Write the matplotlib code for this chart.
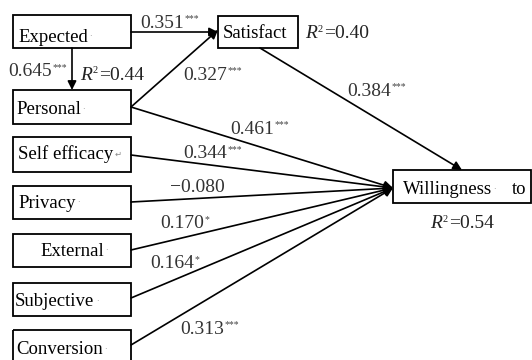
import matplotlib
matplotlib.use("Agg")
import matplotlib.pyplot as plt
from matplotlib.patches import Rectangle

# ---- data ----
nodes = ["Expected", "Satisfact", "Personal", "Self efficacy", "Privacy",
         "External", "Subjective", "Conversion", "Willingness"]
node_marks = ["·", "", "·", "↵", "·", "·", "·", "·", "·"]
paths_from = ["Expected", "Expected", "Personal", "Satisfact", "Personal",
              "Self efficacy", "Privacy", "External", "Subjective", "Conversion"]
paths_to = ["Satisfact", "Personal", "Satisfact", "Willingness", "Willingness",
            "Willingness", "Willingness", "Willingness", "Willingness", "Willingness"]
coef_values = ["0.351", "0.645", "0.327", "0.384", "0.461",
               "0.344", "\u22120.080", "0.170", "0.164", "0.313"]
coef_stars = ["***", "***", "***", "***", "***", "***", "", "*", "*", "***"]
r2_nodes = ["Personal", "Satisfact", "Willingness"]
r2_values = ["0.44", "0.40", "0.54"]

# ---- layout (pixel coordinates) ----
boxes = {
    "Expected": (13, 15, 131, 48),
    "Satisfact": (218, 16, 298, 48),
    "Personal": (13, 90, 131, 124),
    "Self efficacy": (13, 137, 131, 172),
    "Privacy": (13, 186, 131, 219),
    "External": (13, 234, 131, 267),
    "Subjective": (13, 283, 131, 316),
    "Conversion": (13, 330, 131, 368),
    "Willingness": (393, 170, 531, 203),
}
text_pos = {
    "Expected": (18, 37), "Satisfact": (223, 33), "Personal": (16, 110),
    "Self efficacy": (18, 154), "Privacy": (18, 203), "External": (40, 251),
    "Subjective": (15, 302), "Conversion": (16, 350), "Willingness": (403, 190),
}
start_pts = {
    ("Expected", "Satisfact"): (131, 32), ("Expected", "Personal"): (72, 48),
    ("Personal", "Satisfact"): (131, 107), ("Satisfact", "Willingness"): (260, 48),
    ("Personal", "Willingness"): (131, 107), ("Self efficacy", "Willingness"): (131, 155),
    ("Privacy", "Willingness"): (131, 202), ("External", "Willingness"): (131, 250),
    ("Subjective", "Willingness"): (131, 298), ("Conversion", "Willingness"): (131, 345),
}
end_pts = {
    ("Expected", "Satisfact"): (218, 32), ("Expected", "Personal"): (72, 90),
    ("Personal", "Satisfact"): (218, 30), ("Satisfact", "Willingness"): (462, 170),
}
conv_pt = (393, 188)
label_pos = [(140, 23), (8, 72), (183, 75), (347, 91), (230, 129),
             (183, 154), (170, 188), (160, 224), (150, 264), (180, 329)]
r2_pos = {"Personal": (80, 75), "Satisfact": (305, 34), "Willingness": (430, 224)}

fig = plt.figure(figsize=(5.32, 3.60), dpi=100)
ax = fig.add_axes([0, 0, 1, 1])
ax.set_xlim(0, 532)
ax.set_ylim(360, 0)
ax.axis("off")

serif = ["Liberation Serif", "DejaVu Serif"]
BOX_FS = 13.5
NUM_FS = 14


def sup(t, s, fs, color, dx=0.5, dy=-1.0):
    return ax.annotate(s, xy=(1, 0.78), xycoords=t, xytext=(dx, dy),
                       textcoords="offset points", family=serif,
                       fontsize=fs, color=color, va="bottom", ha="left")


for name, mark in zip(nodes, node_marks):
    x0, y0, x1, y1 = boxes[name]
    ax.add_patch(Rectangle((x0, y0), x1 - x0, y1 - y0, fill=False,
                           edgecolor="black", linewidth=1.3, zorder=3))
    tx, ty = text_pos[name]
    t = ax.text(tx, ty, name, family=serif, fontsize=BOX_FS, va="center",
                ha="left", color="black", zorder=4)
    if mark:
        ax.annotate(mark, xy=(1, 0.5), xycoords=t, xytext=(1, 0),
                    textcoords="offset points", family=["DejaVu Sans"],
                    fontsize=6, color="#888888", va="center", ha="left")
# extra "to" on Willingness box
ax.text(512, 190, "to", family=serif, fontsize=BOX_FS, va="center", ha="left")

for i, (a, b) in enumerate(zip(paths_from, paths_to)):
    s = start_pts[(a, b)]
    e = end_pts.get((a, b), conv_pt)
    ax.annotate("", xy=e, xytext=s,
                arrowprops=dict(arrowstyle="-|>", color="black", lw=1.2,
                                mutation_scale=13, shrinkA=0, shrinkB=0),
                zorder=2)
    lx, ly = label_pos[i]
    t = ax.text(lx, ly, coef_values[i], family=serif, fontsize=NUM_FS,
                color="#333333", va="center", ha="left")
    if coef_stars[i]:
        sup(t, coef_stars[i], 7, "#444444", dx=0.5, dy=-3.5)

for n, v in zip(r2_nodes, r2_values):
    x, y = r2_pos[n]
    t = ax.text(x, y, "R", family=serif, style="italic", fontsize=NUM_FS,
                color="#222222", va="center", ha="left")
    ax.annotate("2", xy=(1, 0.78), xycoords=t, xytext=(0.3, -3.5),
                textcoords="offset points", family=serif, fontsize=7.5,
                color="#222222", va="bottom", ha="left")
    ax.annotate("=" + v, xy=(1, 0.5), xycoords=t, xytext=(5.2, 0),
                textcoords="offset points", family=serif, fontsize=NUM_FS,
                color="#222222", va="center", ha="left")

fig.savefig("out.png", dpi=100)
